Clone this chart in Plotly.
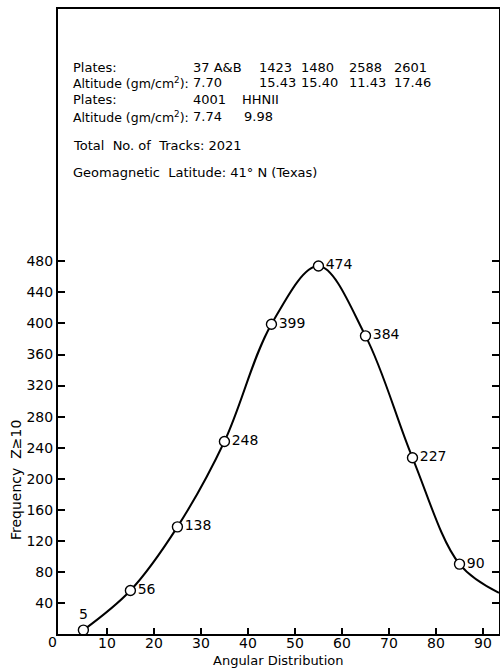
import plotly.graph_objects as go

# Data
angles = [5, 15, 25, 35, 45, 55, 65, 75, 85]
freq = [5, 56, 138, 248, 399, 474, 384, 227, 90]
label_pos = ["top center", "middle right", "middle right", "middle right", "middle right",
             "middle right", "middle right", "middle right", "middle right"]
# curve continues past the last point to the right frame edge
tail_x = [93.4]
tail_y = [53]

x_ticks = [10, 20, 30, 40, 50, 60, 70, 80, 90]
y_ticks = [40, 80, 120, 160, 200, 240, 280, 320, 360, 400, 440, 480]

plates1 = ["37 A&B", "1423", "1480", "2588", "2601"]
alt1 = ["7.70", "15.43", "15.40", "11.43", "17.46"]
plates2 = ["4001", "HHNII"]
alt2 = ["7.74", "9.98"]
col1_x = [191, 257, 299, 347, 392]
col2_x = [191, 240]
alt2_x = [191, 242]

FONT = "DejaVu Sans"
W, H = 500, 669
ML, MR, MT, MB = 58, 1, 9, 35
PW, PH = W - ML - MR, H - MT - MB

fig = go.Figure()
fig.add_trace(go.Scatter(
    x=angles + tail_x, y=freq + tail_y, mode="lines",
    line=dict(color="black", width=2, shape="spline", smoothing=1.0),
    hoverinfo="skip", showlegend=False))
fig.add_trace(go.Scatter(
    x=angles, y=freq, mode="markers+text",
    marker=dict(symbol="circle", size=10, color="white",
                line=dict(color="black", width=1.4)),
    text=[str(v) for v in freq], textposition=label_pos,
    textfont=dict(family=FONT, size=14, color="black"),
    showlegend=False, cliponaxis=False))

def px(xp):
    return (xp - ML) / PW

def py(yp):
    return (H - MB - yp) / PH

ann = []
def add_text(t, xp, yp, size=13, xanchor="left"):
    ann.append(dict(text=t, x=px(xp), y=py(yp), xref="paper", yref="paper",
                    xanchor=xanchor, yanchor="middle", showarrow=False,
                    font=dict(family=FONT, size=size, color="black")))

add_text("Plates:", 71, 67)
add_text("Altitude (gm/cm<sup>2</sup>):", 71, 83, size=12.5)
add_text("Plates:", 71, 100)
add_text("Altitude (gm/cm<sup>2</sup>):", 71, 117, size=12.5)
for t, xp in zip(plates1, col1_x):
    add_text(t, xp, 67)
for t, xp in zip(alt1, col1_x):
    add_text(t, xp, 83)
for t, xp in zip(plates2, col2_x):
    add_text(t, xp, 100)
for t, xp in zip(alt2, alt2_x):
    add_text(t, xp, 117)
add_text("Total  No. of  Tracks: 2021", 71, 145)
add_text("Geomagnetic  Latitude: 41° N (Texas)", 71, 173)
add_text("0", 52, 642, size=14, xanchor="center")

ann.append(dict(text="Frequency  Z≥10", x=px(16), y=py(480), xref="paper", yref="paper",
                xanchor="center", yanchor="middle", showarrow=False, textangle=-90,
                font=dict(family=FONT, size=14, color="black")))
ann.append(dict(text="Angular Distribution", x=px(278), y=py(661), xref="paper", yref="paper",
                xanchor="center", yanchor="middle", showarrow=False,
                font=dict(family=FONT, size=13, color="black")))

fig.update_layout(
    width=W, height=H,
    margin=dict(l=ML, r=MR, t=MT, b=MB, autoexpand=False),
    paper_bgcolor="white", plot_bgcolor="white",
    annotations=ann,
    xaxis=dict(range=[-0.4, 93.4], tickvals=x_ticks, ticks="inside", ticklen=6,
               tickwidth=1.5, tickcolor="black", showline=True, linecolor="black",
               linewidth=2, mirror=True, showgrid=False, zeroline=False,
               ticklabelstandoff=-5,
               tickfont=dict(family=FONT, size=14, color="black")),
    yaxis=dict(range=[0, 805], tickvals=y_ticks, ticks="inside", ticklen=7,
               tickwidth=1.5, tickcolor="black", showline=True, linecolor="black",
               linewidth=2, mirror="ticks", showgrid=False, zeroline=False,
               tickfont=dict(family=FONT, size=14, color="black")),
)

fig.write_html("out.html", config={"displayModeBar": False},
               post_script="document.body.style.margin='0';document.body.style.overflow='hidden';")
